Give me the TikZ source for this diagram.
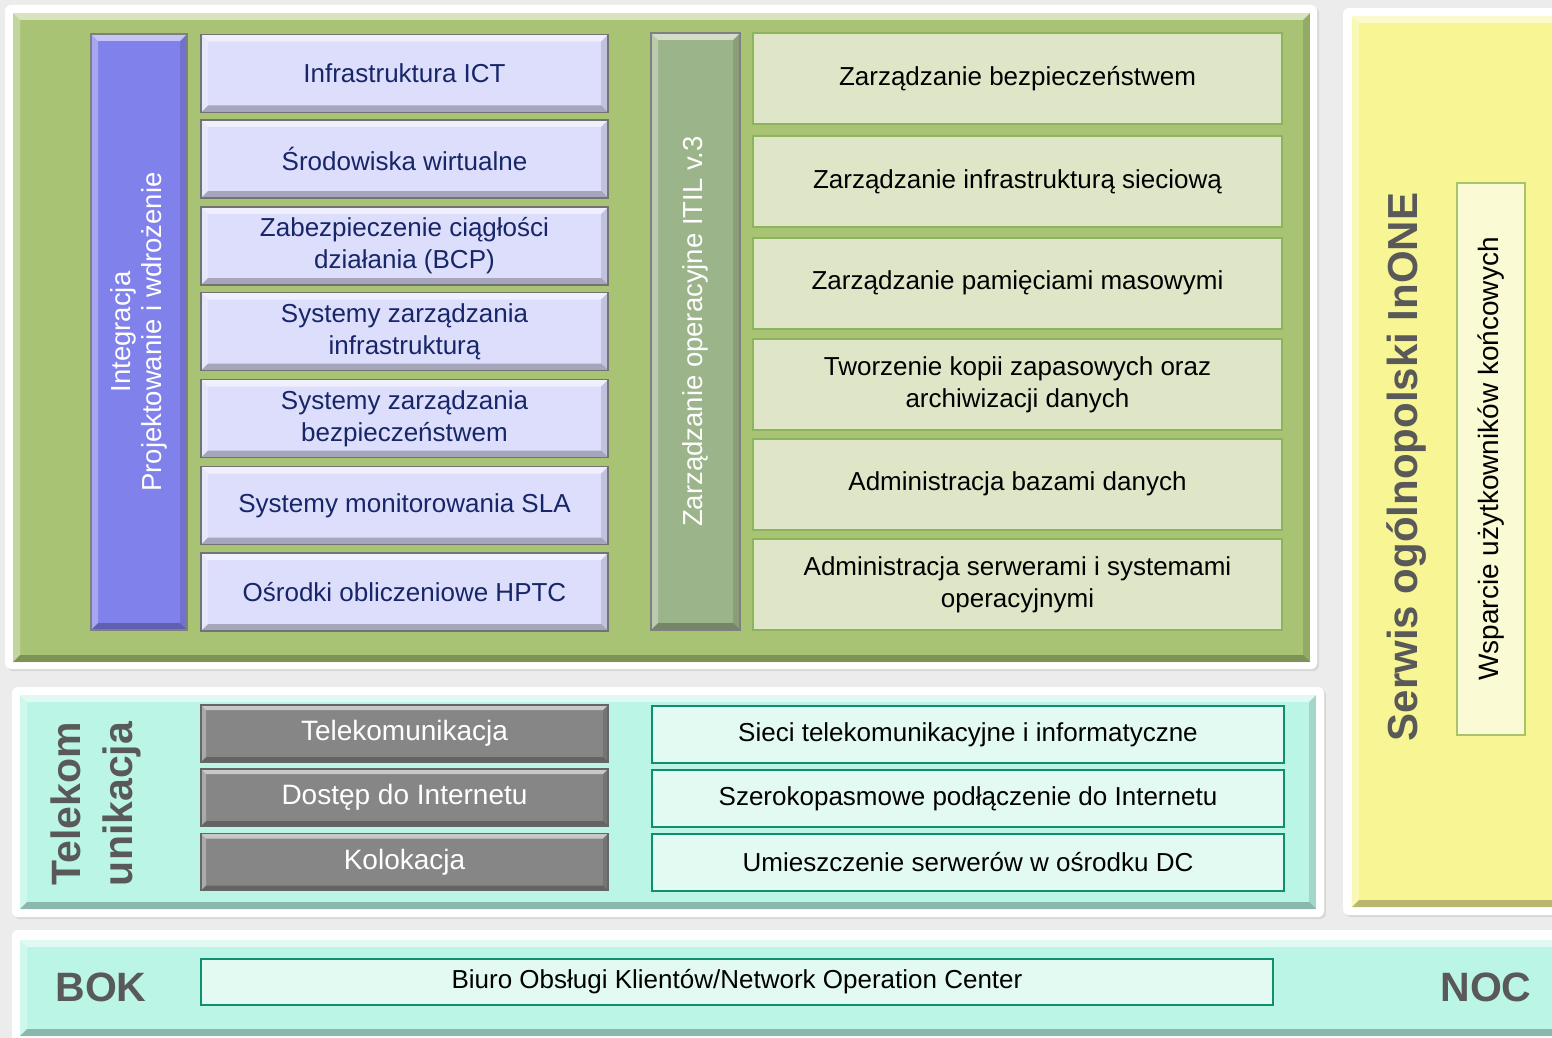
\documentclass[tikz,border=0pt]{standalone}
\usepackage{fontspec}
\setmainfont{Liberation Sans}
\usetikzlibrary{shadows}

\definecolor{bggray}{RGB}{236,236,236}
\definecolor{panelgreen}{RGB}{169,195,117}
\definecolor{purplecol}{RGB}{129,129,236}
\definecolor{lavender}{RGB}{221,221,252}
\definecolor{navytext}{RGB}{22,38,104}
\definecolor{itilcol}{RGB}{156,180,138}
\definecolor{lightgreen}{RGB}{222,230,199}
\definecolor{linegreen}{RGB}{140,180,90}
\definecolor{paleyellow}{RGB}{247,245,148}
\definecolor{creamfill}{RGB}{250,250,212}
\definecolor{creamline}{RGB}{168,196,104}
\definecolor{mintpanel}{RGB}{187,245,230}
\definecolor{mintfill}{RGB}{227,250,243}
\definecolor{tealline}{RGB}{14,143,110}
\definecolor{darkgraytext}{RGB}{89,89,89}

\newcommand\boxfont{\fontsize{26}{32}\selectfont}
\newcommand\sidefont{\fontsize{27.5}{31}\selectfont}

\tikzset{
  bevel/.style={path picture={
      \coordinate (bnw) at (path picture bounding box.north west);
      \coordinate (bne) at (path picture bounding box.north east);
      \coordinate (bsw) at (path picture bounding box.south west);
      \coordinate (bse) at (path picture bounding box.south east);
      \fill[white,opacity=.55] (bnw) -- (bne) -- ([xshift=-#1,yshift=-#1]bne) -- ([xshift=#1,yshift=-#1]bnw) -- cycle;
      \fill[white,opacity=.3] (bnw) -- ([xshift=#1,yshift=-#1]bnw) -- ([xshift=#1,yshift=#1]bsw) -- (bsw) -- cycle;
      \fill[black,opacity=.25] (bsw) -- (bse) -- ([xshift=-#1,yshift=#1]bse) -- ([xshift=#1,yshift=#1]bsw) -- cycle;
      \fill[black,opacity=.12] (bne) -- (bse) -- ([xshift=-#1,yshift=#1]bse) -- ([xshift=-#1,yshift=-#1]bne) -- cycle;
    }},
  sz/.style 2 args={minimum width=#1pt, minimum height=#2pt},
  panelframe/.style={fill=white, rounded corners=6pt, inner sep=0pt,
    drop shadow={opacity=.18, shadow xshift=2pt, shadow yshift=-2pt}},
  panel/.style={fill=#1, inner sep=0pt, bevel=7pt},
  lavbox/.style={fill=lavender, draw=black!55, line width=1.2pt, bevel=7pt, sz={407}{78},
    inner sep=0pt, text=navytext, font=\boxfont, align=center},
  pillar/.style={fill=#1, draw=black!50, line width=1.2pt, bevel=7pt, inner sep=0pt},
  greenbox/.style={fill=lightgreen, draw=linegreen, line width=2pt, sz={529}{91},
    inner sep=0pt, font=\boxfont, align=center},
  graybox/.style={fill=gray!95, draw=black!60, line width=1.2pt, bevel=5pt, sz={407}{57},
    inner sep=0pt, text=white, font=\fontsize{28}{32}\selectfont},
  mintbox/.style={fill=mintfill, draw=tealline, line width=2pt, sz={632}{57},
    inner sep=0pt, font=\boxfont},
  biglabel/.style={text=darkgraytext, font=\fontsize{41}{52}\selectfont\bfseries}
}

\begin{document}
\begin{tikzpicture}[x=1pt,y=-1pt]
\useasboundingbox (0,0) rectangle (1552,1038);
\fill[bggray] (0,0) rectangle (1552,1038);
\clip (0,0) rectangle (1552,1038);

% ICT services
\node[panelframe, sz={1312}{664}] (ictframe) at (661,337) {};
\node[panel=panelgreen, sz={1297}{649}] (ictpanel) at (661.5,337.5) {};

\node[pillar=purplecol, sz={96}{596}] (integr) at (139,332) {};
\node[rotate=90, text=white, font=\sidefont, align=center] (integrtxt) at (integr.center) {Integracja\\Projektowanie i wdrożenie};

\node[lavbox] (ict) at (404.5,73.5) {Infrastruktura ICT};
\node[lavbox] (virt) at (404.5,159) {Środowiska wirtualne};
\node[lavbox] (bcp) at (404.5,246) {Zabezpieczenie ciągłości\\działania (BCP)};
\node[lavbox] (sysinf) at (404.5,331.5) {Systemy zarządzania\\infrastrukturą};
\node[lavbox] (sysbez) at (404.5,418.5) {Systemy zarządzania\\bezpieczeństwem};
\node[lavbox] (sla) at (404.5,505.5) {Systemy monitorowania SLA};
\node[lavbox] (hptc) at (404.5,592) {Ośrodki obliczeniowe HPTC};

\node[pillar=itilcol, sz={89}{597}] (itil) at (695.5,331.5) {};
\node[rotate=90, text=white, font=\sidefont] (itiltxt) at (itil.center) {Zarządzanie operacyjne ITIL v.3};

\node[greenbox] (bezp) at (1017.5,79) {Zarządzanie bezpieczeństwem};
\node[greenbox] (siec) at (1017.5,181.5) {Zarządzanie infrastrukturą sieciową};
\node[greenbox] (pam) at (1017.5,283) {Zarządzanie pamięciami masowymi};
\node[greenbox] (kopie) at (1017.5,384.5) {Tworzenie kopii zapasowych oraz\\archiwizacji danych};
\node[greenbox] (bazy) at (1017.5,484) {Administracja bazami danych};
\node[greenbox] (serw) at (1017.5,584.5) {Administracja serwerami i systemami\\operacyjnymi};

% InONE
\node[panelframe, sz={232}{907}] (inoneframe) at (1459,461.5) {};
\node[panel=paleyellow, sz={223}{891}] (inone) at (1463.5,461.5) {};
\node[rotate=90, text=darkgraytext, font=\fontsize{42}{50}\selectfont\bfseries] (inonetxt) at (1407,467) {Serwis ogólnopolski InONE};
\node[fill=creamfill, draw=creamline, line width=2pt, inner sep=0pt, sz={68}{552}] (wsp) at (1491,459) {};
\node[rotate=90, font=\fontsize{28}{32}\selectfont] (wsptxt) at (wsp.center) {Wsparcie użytkowników końcowych};

% telekomunikacja
\node[panelframe, sz={1312}{230}] (telframe) at (668,802) {};
\node[panel=mintpanel, sz={1296}{214}] (telpanel) at (668,802) {};
\node[biglabel, rotate=90, align=center] (teltxt) at (96,804) {Telekom\\unikacja};

\node[graybox] (telek) at (404.5,733.5) {Telekomunikacja};
\node[graybox] (inet) at (404.5,797.5) {Dostęp do Internetu};
\node[graybox] (kolo) at (404.5,862) {Kolokacja};

\node[mintbox] (sieci) at (968,734.5) {Sieci telekomunikacyjne i informatyczne};
\node[mintbox] (szer) at (968,798.5) {Szerokopasmowe podłączenie do Internetu};
\node[mintbox] (umiesz) at (968,862.5) {Umieszczenie serwerów w ośrodku DC};

% BOK / NOC
\node[panelframe, sz={1563}{120}] (bokframe) at (793.5,990) {};
\node[panel=mintpanel, sz={1555}{96}] (bokpanel) at (797.5,988) {};
\node[biglabel] (bok) at (101,987) {BOK};
\node[biglabel] (noc) at (1486,987) {NOC};
\node[mintbox, sz={1072}{46}] (biuro) at (737,982) {Biuro Obsługi Klientów/Network Operation Center};
\end{tikzpicture}
\end{document}
